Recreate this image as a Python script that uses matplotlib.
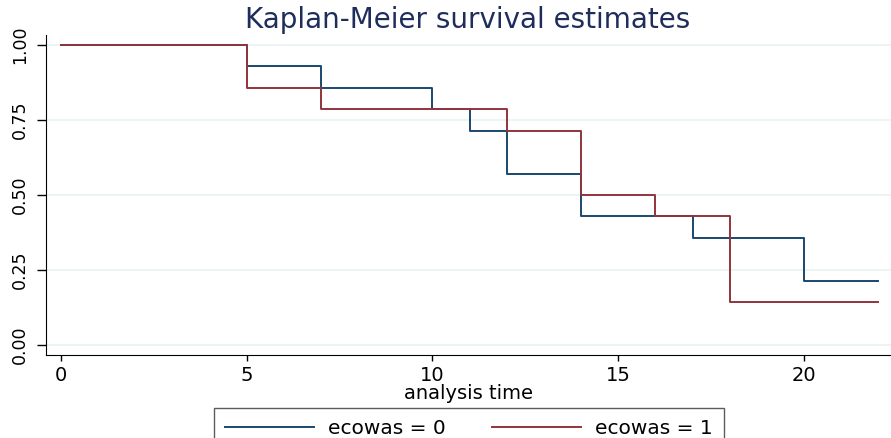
import numpy as np
import matplotlib
matplotlib.use("Agg")
import matplotlib.pyplot as plt

# KM step data (time, survival)
t_eco0 = [0, 5, 7, 10, 11, 12, 14, 17, 20, 22]
s_eco0 = [1.0, 0.9286, 0.8571, 0.7857, 0.7143, 0.5714, 0.4286, 0.3571, 0.2143, 0.2143]
t_eco1 = [0, 5, 7, 12, 14, 16, 18, 22]
s_eco1 = [1.0, 0.8571, 0.7857, 0.7143, 0.5, 0.4286, 0.1429, 0.1429]

xticks = [0, 5, 10, 15, 20]
yticks = [0.0, 0.25, 0.5, 0.75, 1.0]
ytick_labels = ["0.00", "0.25", "0.50", "0.75", "1.00"]
labels = ["ecowas = 0", "ecowas = 1"]

blue = "#1a476f"
red = "#90353b"

plt.rcParams['font.family'] = ['DejaVu Sans']

fig = plt.figure(figsize=(8.91, 4.38), dpi=100)
ax = fig.add_axes([46/891, 1-355/438, 1-46/891, 320/438])

for y in yticks:
    ax.axhline(y, color="#eaf2f3", lw=1.2, zorder=0)

l0, = ax.step(t_eco0, s_eco0, where="post", color=blue, lw=1.4)
l1, = ax.step(t_eco1, s_eco1, where="post", color=red, lw=1.4)

ax.set_xlim(-0.40, 22.34)
ax.set_ylim(-0.0333, 1.0333)
ax.set_xticks(xticks)
ax.set_yticks(yticks)
ax.set_yticklabels(ytick_labels, rotation=90, va="center")
ax.tick_params(axis="x", labelsize=14, length=4.5, width=1, pad=3.5)
ax.tick_params(axis="y", labelsize=12.5, length=6.5, width=1, pad=6)
ax.spines["top"].set_visible(False)
ax.spines["right"].set_visible(False)
ax.set_xlabel("analysis time", fontsize=14, labelpad=-1)

fig.text(468/891, 1-28/438, "Kaplan-Meier survival estimates", fontsize=20,
         color="#1e2d5c", ha="center", va="baseline")

leg = fig.legend([l0, l1], labels, loc="upper center", bbox_to_anchor=(469/891, 1-408/438),
                 ncol=2, fontsize=14.5, frameon=True, fancybox=False, edgecolor="#333333",
                 handlelength=4.4, columnspacing=2.3, borderpad=0.55, handletextpad=0.7,
                 borderaxespad=0)
leg.get_frame().set_linewidth(1.0)

fig.savefig("out.png", dpi=100)
